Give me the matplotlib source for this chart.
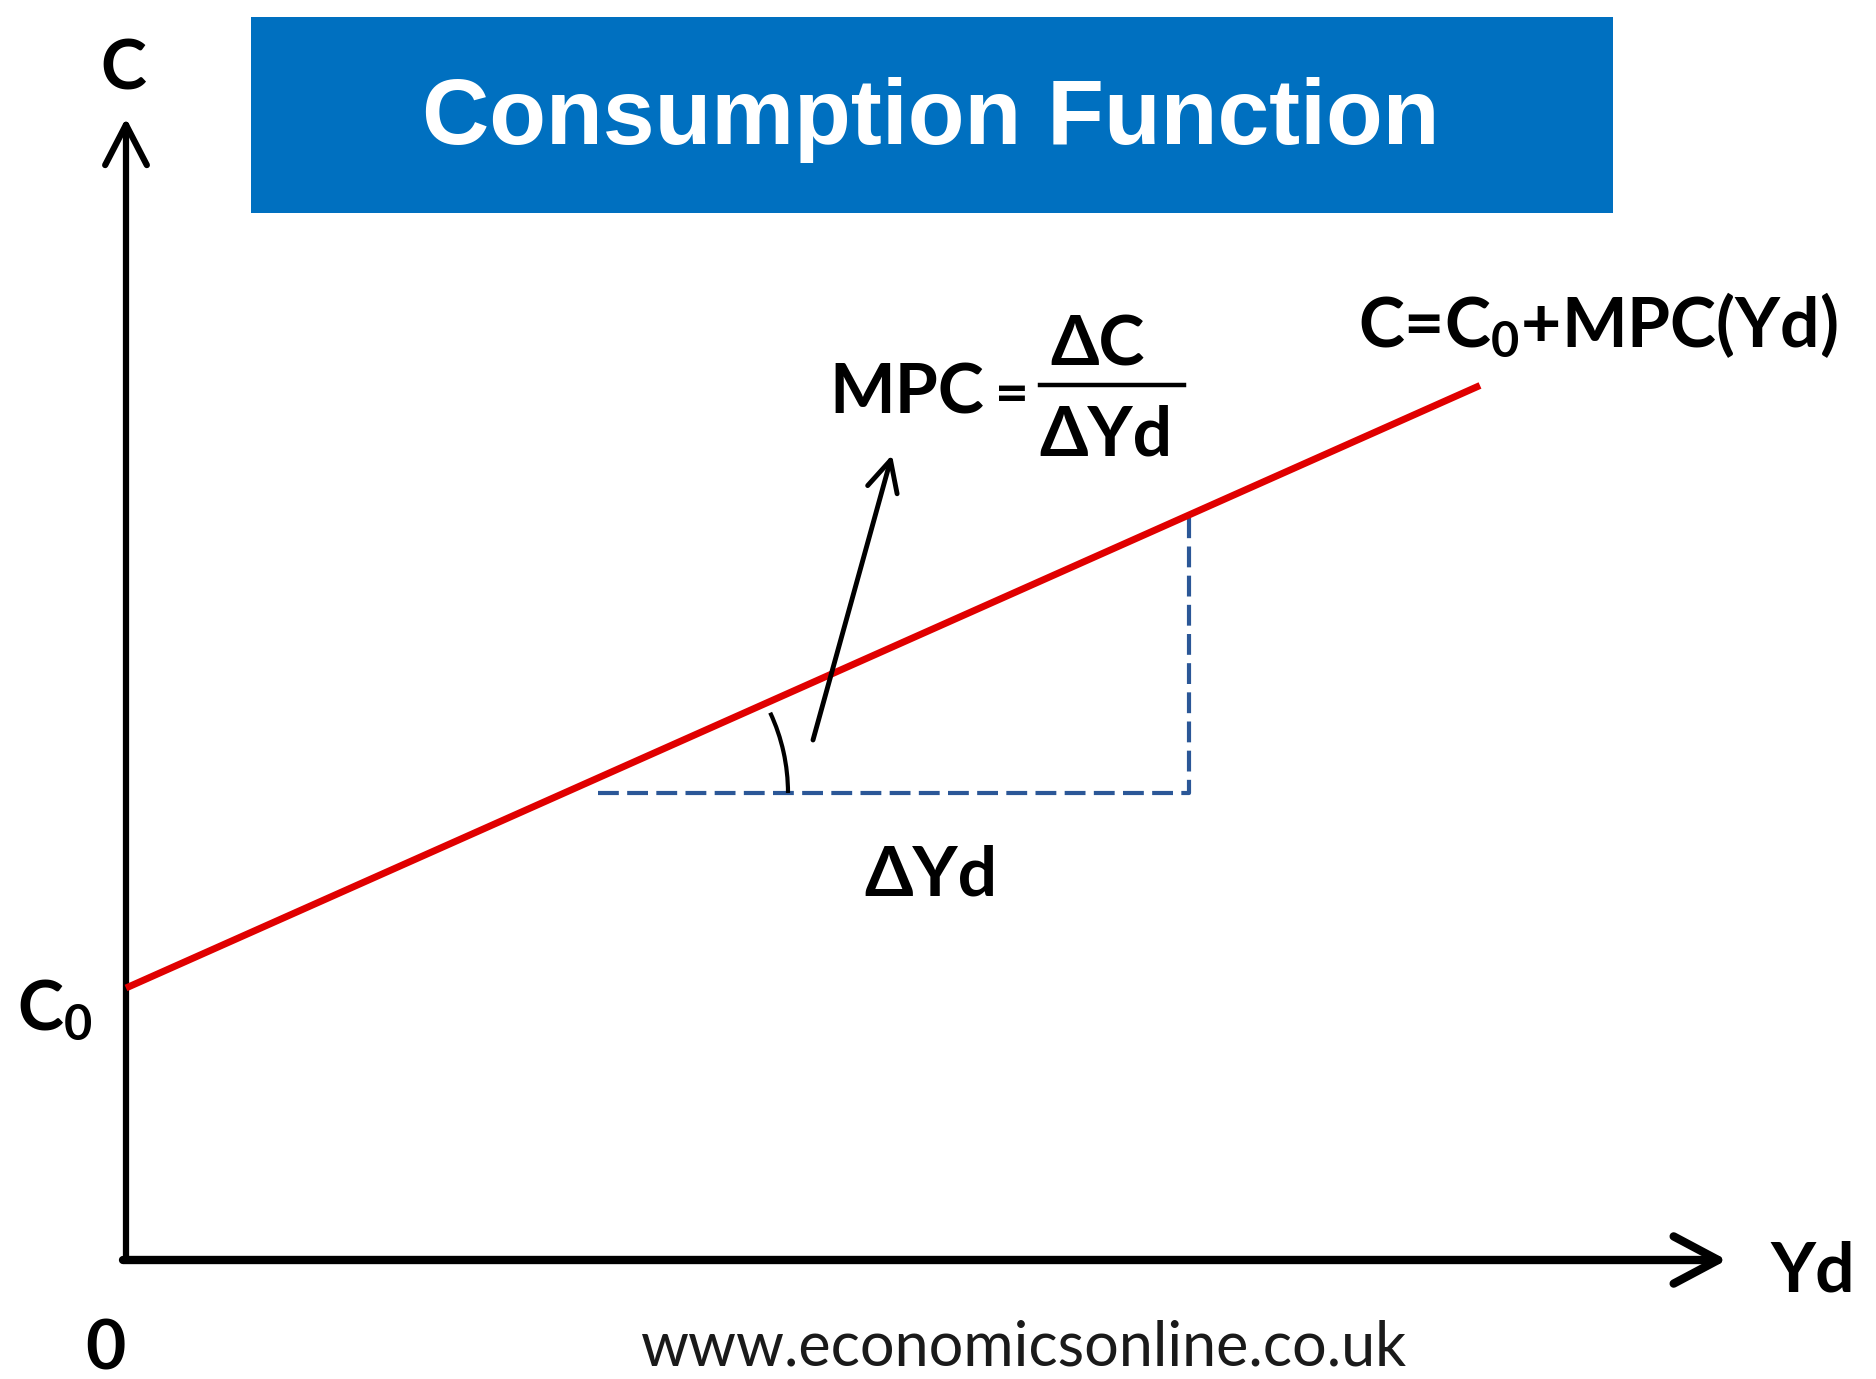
# Consumption function diagram: C = C0 + MPC * Yd
import numpy as np
import matplotlib
matplotlib.use('Agg')
import matplotlib.pyplot as plt
from matplotlib.patches import Rectangle, Arc

plt.rcParams['mathtext.fontset'] = 'custom'
plt.rcParams['mathtext.rm'] = 'Lato:bold'
plt.rcParams['mathtext.it'] = 'Lato:bold'
plt.rcParams['mathtext.bf'] = 'Lato:bold'

# --- data (1 unit = 10 px of the original picture) ---
C0 = 27.2            # autonomous consumption
MPC = 0.445          # slope of the consumption line
yd_range = [0.0, 135.4]
yd_delta = [47.2, 106.3]   # where the delta-Yd step starts and ends
c_base = 46.7              # level of the dashed step
axis_max = [160.1, 114.2]  # x and y axis tips

yd_line = np.array(yd_range)
c_line = C0 + MPC * yd_line
c_top = C0 + MPC * yd_delta[1]

label_font = ['Lato', 'DejaVu Sans']
fs = 50

fig = plt.figure(figsize=(18.76, 13.79), dpi=100)
ax = fig.add_axes([0, 0, 1, 1])
ax.set_xlim(-12.6, 175.0)
ax.set_ylim(-11.9, 126.0)
ax.axis('off')

# --- title box ---
ax.add_patch(Rectangle((12.5, 104.7), 136.2, 19.6, facecolor='#0070C0',
                       edgecolor='none', zorder=1))
ax.text(80.5, 114.0, 'Consumption Function', color='white', fontsize=67,
        fontweight='bold', family=['Liberation Sans', 'DejaVu Sans'],
        ha='center', va='center', zorder=2)

# --- axes with arrow heads ---
ax.annotate('', xy=(0, axis_max[1]), xytext=(0, 0),
            arrowprops=dict(arrowstyle='->, head_length=1.45, head_width=0.75',
                            lw=4.5, color='black', mutation_scale=20,
                            shrinkA=0, shrinkB=0))
ax.annotate('', xy=(axis_max[0], 0), xytext=(-0.3, 0),
            arrowprops=dict(arrowstyle='->, head_length=1.6, head_width=0.85',
                            lw=6, color='black', mutation_scale=20,
                            shrinkA=0, shrinkB=0))

# --- consumption line ---
ax.plot(yd_line, c_line, color='#E00000', lw=5, solid_capstyle='butt', zorder=3)

# --- delta Yd / delta C step ---
ax.plot([yd_delta[0], yd_delta[1], yd_delta[1]], [c_base, c_base, c_top],
        color='#2B5797', lw=3, linestyle=(0, (5.0, 2.0)), zorder=2)

# angle arc
ax.add_patch(Arc((yd_delta[0], c_base), 38, 38, theta1=0, theta2=25,
                 color='black', lw=3, zorder=4))

# arrow pointing to the MPC formula
ax.annotate('', xy=(76.6, 80.5), xytext=(68.7, 52.0),
            arrowprops=dict(arrowstyle='->, head_length=1.1, head_width=0.55',
                            lw=3.5, color='black', mutation_scale=20,
                            shrinkA=0, shrinkB=0), zorder=5)

# --- labels ---
kw = dict(fontsize=fs, fontweight='bold', family=label_font, color='black')
ax.text(-0.3, 117.0, 'C', ha='center', va='baseline', **kw)
ax.text(-10.9, 23.0, r'C$_0$', ha='left', va='baseline', **kw)
ax.text(164.4, -3.2, 'Yd', ha='left', va='baseline', **kw)
ax.text(-2.1, -10.9, '0', ha='center', va='baseline', **kw)
ax.text(80.5, 36.5, 'ΔYd', ha='center', va='baseline', **kw)
ax.text(123.2, 91.3, r'C=C$_0$+MPC(Yd)', ha='left', va='baseline', **kw)

ax.text(70.3, 84.7, 'MPC', ha='left', va='baseline', **kw)
ax.text(88.6, 84.7, '=', ha='center', va='baseline',
        **{**kw, 'fontsize': 42})
ax.text(97.2, 89.5, 'ΔC', ha='center', va='baseline', **kw)
ax.text(98.0, 80.5, 'ΔYd', ha='center', va='baseline', **kw)
ax.plot([91.4, 105.8], [87.5, 87.5], color='black', lw=3.2)

ax.text(89.8, -10.6, 'www.economicsonline.co.uk', ha='center', va='baseline',
        fontsize=44, fontweight='normal', family=['Lato', 'DejaVu Sans'],
        color='#1a1a1a')

fig.savefig('out.png', dpi=100)
